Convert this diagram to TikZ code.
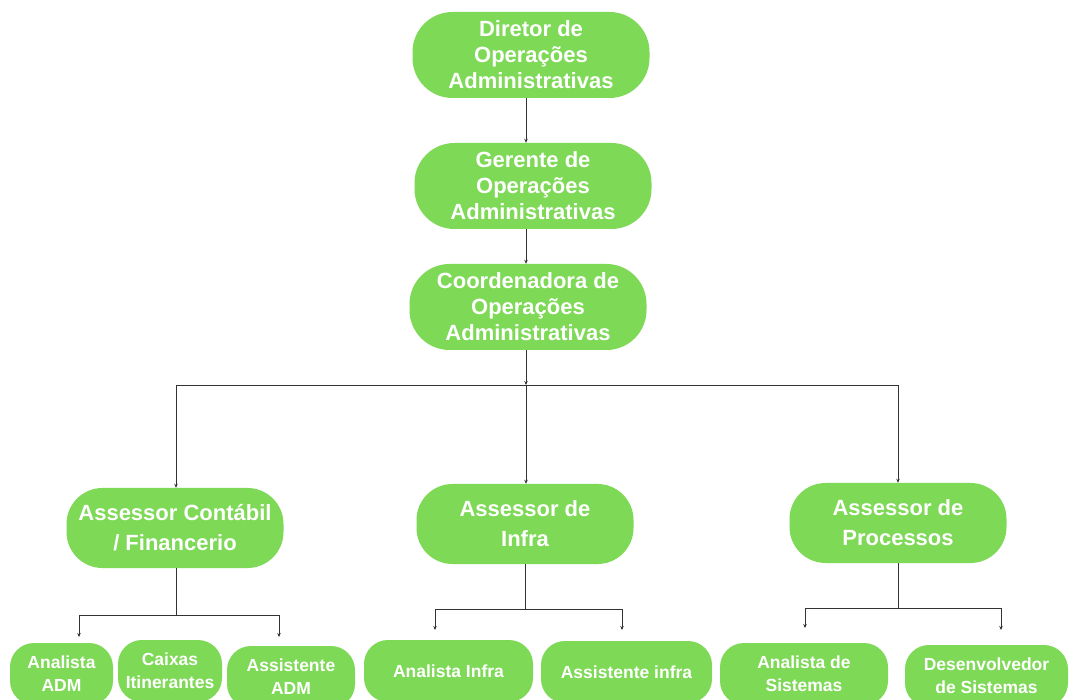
\documentclass[tikz,border=0pt]{standalone}
\usepackage{fontspec}
\setmainfont{Liberation Sans}
\usetikzlibrary{arrows.meta}
\definecolor{boxgreen}{HTML}{7ED957}
\begin{document}
\begin{tikzpicture}[x=1pt,y=-1pt,
  box/.style={fill=boxgreen, text=white, align=center, inner sep=0pt},
  topbox/.style={box, minimum width=237pt, minimum height=86pt, rounded corners=40pt,
    font=\fontsize{22}{26}\selectfont\bfseries},
  midbox/.style={box, minimum width=217pt, minimum height=80pt, rounded corners=36pt,
    font=\fontsize{22}{30}\selectfont\bfseries},
  lowbox/.style={box, minimum height=62pt, rounded corners=24pt,
    font=\fontsize{17.5}{23}\selectfont\bfseries},
  conn/.style={draw=black!80, line width=0.9pt},
  arr/.style={conn, -{Stealth[length=4pt,width=3.5pt]}},
]
\useasboundingbox (0,0) rectangle (1069,700);
\clip (0,0) rectangle (1069,700);
\fill[white] (0,0) rectangle (1069,700);

% top chain
\node[topbox] (dir) at (531,55) {Diretor de\\Operações\\Administrativas};
\node[topbox] (ger) at (533,186) {Gerente de\\Operações\\Administrativas};
\node[topbox] (coo) at (528,307) {Coordenadora de\\Operações\\Administrativas};

% assessors
\node[midbox] (ac) at (175,528) {Assessor Contábil\\/ Financerio};
\node[midbox] (ai) at (525,524) {Assessor de\\Infra};
\node[midbox] (ap) at (898,523) {Assessor de\\Processos};

% bottom row
\node[lowbox, minimum width=103pt] (ana) at (61.5,674) {Analista\\ADM};
\node[lowbox, minimum width=104pt] (cai) at (170,671) {Caixas\\Itinerantes};
\node[lowbox, minimum width=128pt] (asa) at (291,677) {Assistente\\ADM};
\node[lowbox, minimum width=169pt] (ani) at (448.5,671) {Analista Infra};
\node[lowbox, minimum width=171pt] (asi) at (626.5,672) {Assistente infra};
\node[lowbox, minimum width=168pt] (ans) at (804,674) {Analista de\\Sistemas};
\node[lowbox, minimum width=163pt] (des) at (986.5,676) {Desenvolvedor\\de Sistemas};

% junctions
\coordinate (j1) at (526,385);
\coordinate (j2) at (176,615);
\coordinate (a1) at (79,637);
\coordinate (a2) at (279,637);
\coordinate (j3) at (525,609);
\coordinate (b1) at (435,630);
\coordinate (b2) at (622,630);
\coordinate (j4) at (898,608);
\coordinate (c1) at (805,628);
\coordinate (c2) at (1001,630);

% connectors top
\draw[arr] (dir.south -| j1) -- (ger.north -| j1);
\draw[arr] (ger.south -| j1) -- (coo.north -| j1);
\draw[arr] (coo.south -| j1) -- (j1);
\draw[arr] (j1) -| ([xshift=1pt]ac.north);
\draw[arr] (j1) -- (ai.north -| j1);
\draw[arr] (j1) -| (ap.north);

% contabil group
\draw[conn] ([xshift=1pt]ac.south) -- (j2);
\draw[arr] (j2) -| (a1);
\draw[arr] (j2) -| (a2);

% infra group
\draw[conn] (ai.south) -- (j3);
\draw[arr] (j3) -| (b1);
\draw[arr] (j3) -| (b2);

% processos group
\draw[conn] (ap.south) -- (j4);
\draw[arr] (j4) -| (c1);
\draw[arr] (j4) -| (c2);
\end{tikzpicture}
\end{document}
